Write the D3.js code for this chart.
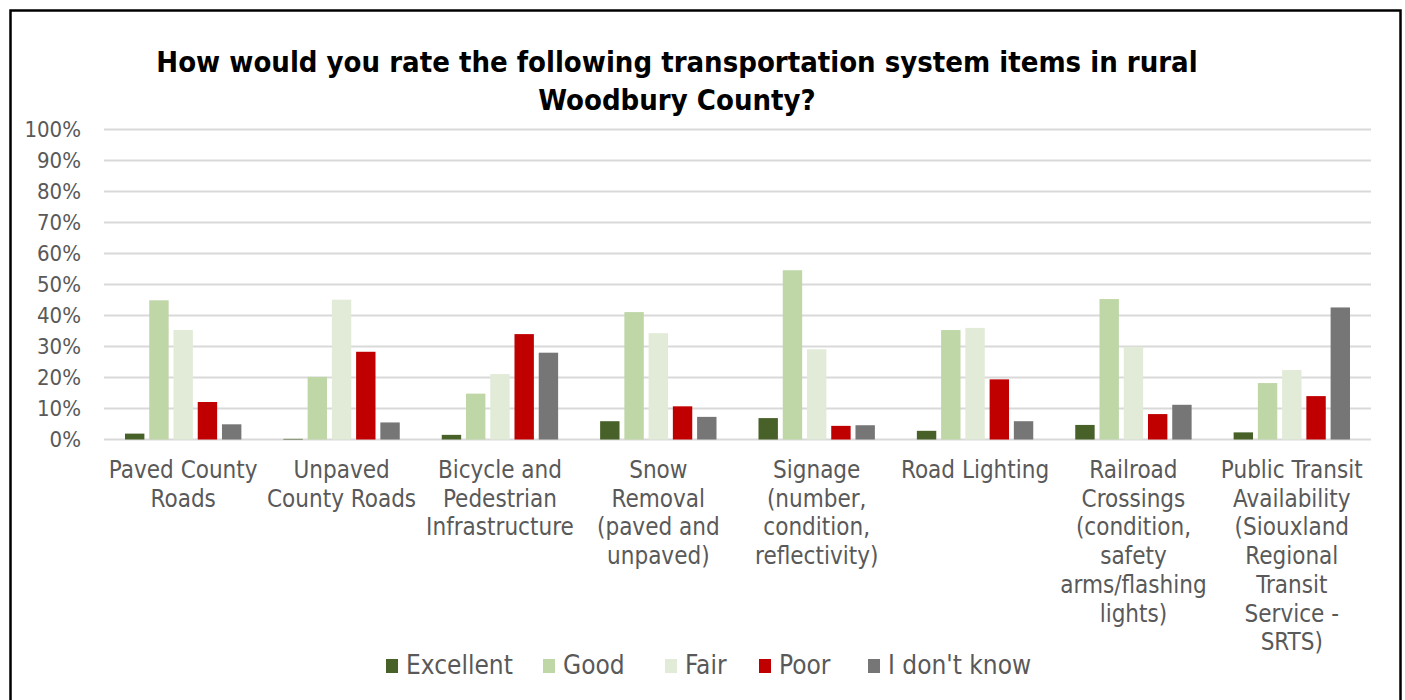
<!DOCTYPE html>
<html><head><meta charset="utf-8">
<script src="https://cdn.jsdelivr.net/npm/d3@7"></script>
<style>
html,body{margin:0;padding:0;background:#fff;}
svg{display:block;}
text{font-family:"Liberation Sans Narrow","DejaVu Sans Condensed","Roboto",sans-serif;}
</style></head>
<body>
<svg id="chart" width="1405" height="700"></svg>
<script>
const titleLines = ["How would you rate the following transportation system items in rural", "Woodbury County?"];
const categories = [
  ["Paved County","Roads"],
  ["Unpaved","County Roads"],
  ["Bicycle and","Pedestrian","Infrastructure"],
  ["Snow","Removal","(paved and","unpaved)"],
  ["Signage","(number,","condition,","reflectivity)"],
  ["Road Lighting"],
  ["Railroad","Crossings","(condition,","safety","arms/flashing","lights)"],
  ["Public Transit","Availability","(Siouxland","Regional","Transit","Service -","SRTS)"]
];
const seriesNames = ["Excellent","Good","Fair","Poor","I don't know"];
const seriesColors = ["#476129","#bfd6a6","#e2ebd8","#c00000","#767676"];
const excellent = [1.9, 0.2, 1.5, 5.9, 6.9, 2.8, 4.7, 2.3];
const good      = [44.9, 20.2, 14.8, 41.1, 54.6, 35.3, 45.3, 18.2];
const fair      = [35.3, 45.1, 21.1, 34.3, 29.1, 36.0, 29.9, 22.4];
const poor      = [12.1, 28.3, 34.0, 10.7, 4.4, 19.4, 8.2, 14.0];
const dontKnow  = [4.9, 5.5, 28.0, 7.3, 4.6, 5.9, 11.2, 42.6];
const yTicks = [0,10,20,30,40,50,60,70,80,90,100];

const seriesValues = [excellent, good, fair, poor, dontKnow];
const svg = d3.select("#chart");

// frame
svg.append("rect").attr("x",10.5).attr("y",10.5).attr("width",1390).attr("height",720)
  .attr("fill","none").attr("stroke","#000").attr("stroke-width",2.5);

// title
const title = svg.append("text").attr("text-anchor","middle")
  .attr("font-size",29).attr("font-weight","bold").attr("fill","#000");
titleLines.forEach((t,i)=>{
  title.append("tspan").attr("x",677).attr("y",72 + i*38).text(t);
});

const plotL = 104, plotR = 1371, plotT = 129.5, plotB = 439.5;
const x = d3.scaleBand().domain(d3.range(categories.length)).range([plotL, plotR]).paddingInner(0).paddingOuter(0);
const inner = d3.scaleBand().domain(d3.range(seriesNames.length))
  .range([21, x.bandwidth()-21]).paddingInner(0.2).paddingOuter(0);
const y = d3.scaleLinear().domain([0,100]).range([plotB, plotT]);

// gridlines
svg.append("g").selectAll("line").data(yTicks).join("line")
  .attr("x1",plotL).attr("x2",plotR)
  .attr("y1",d=>y(d)).attr("y2",d=>y(d))
  .attr("stroke","#d9d9d9").attr("stroke-width",1.8);

// y axis labels
const yAxis = d3.axisLeft(y).tickValues(yTicks).tickFormat(d=>d+"%").tickSize(0).tickPadding(0);
const yg = svg.append("g").attr("transform",`translate(81,0)`).call(yAxis);
yg.select(".domain").remove();
yg.selectAll("text").attr("font-size",22).attr("fill","#595959")
  .attr("font-family",'"Liberation Sans Narrow","DejaVu Sans Condensed",sans-serif');

// bars
const groups = svg.append("g").selectAll("g").data(categories).join("g")
  .attr("transform",(d,i)=>`translate(${x(i)},0)`);
groups.selectAll("rect").data((d,i)=>seriesValues.map((s,k)=>({k, v:s[i]}))).join("rect")
  .attr("x",d=>inner(d.k)).attr("width",inner.bandwidth())
  .attr("y",d=>y(d.v)).attr("height",d=>plotB - y(d.v))
  .attr("fill",d=>seriesColors[d.k]);

// x labels
const xl = svg.append("g").selectAll("text").data(categories).join("text")
  .attr("text-anchor","middle").attr("font-size",24).attr("fill","#595959");
xl.each(function(lines,i){
  const t = d3.select(this);
  lines.forEach((ln,j)=>{
    t.append("tspan").attr("x", x(i)+x.bandwidth()/2).attr("y", 478 + j*28.7).text(ln);
  });
});

// legend
const legendX = [386, 543, 665, 759, 868];
const lg = svg.append("g").selectAll("g").data(seriesNames).join("g")
  .attr("transform",(d,i)=>`translate(${legendX[i]},0)`);
lg.append("rect").attr("x",0).attr("y",659).attr("width",12).attr("height",14)
  .attr("fill",(d,i)=>seriesColors[i]);
lg.append("text").attr("x",20).attr("y",674).attr("font-size",26).attr("fill","#595959").text(d=>d);
</script>
</body></html>
